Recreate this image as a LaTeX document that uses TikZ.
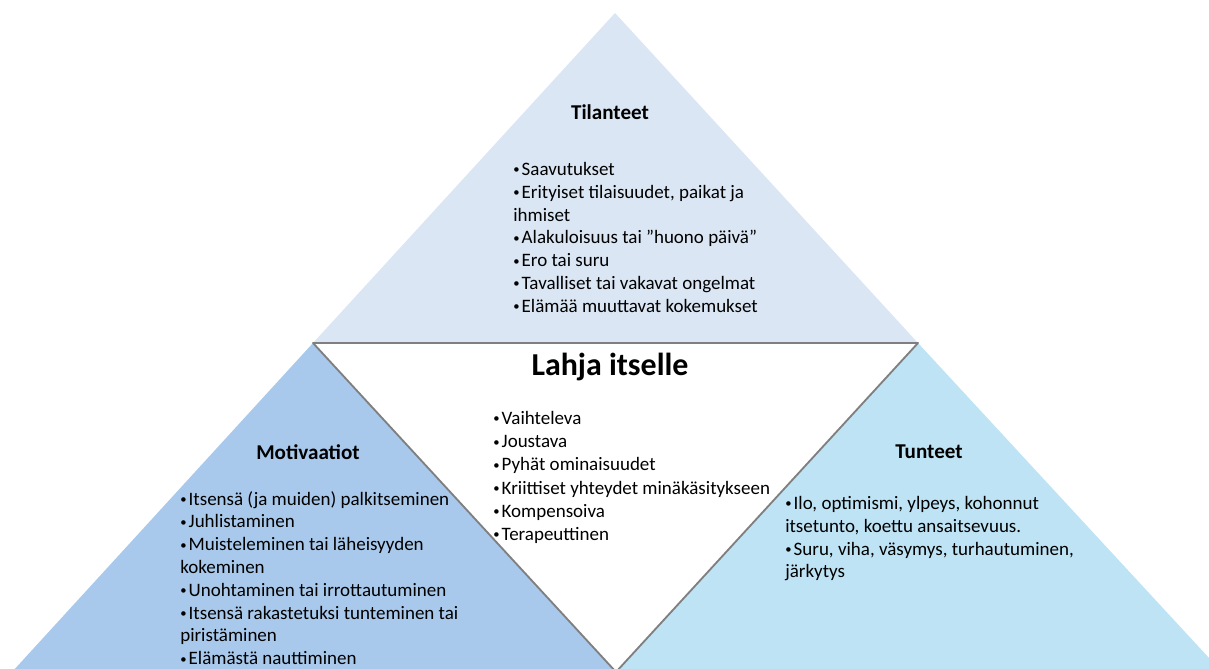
\documentclass[tikz,border=0pt]{standalone}
\usepackage{fontspec}
\setmainfont{Carlito}
\usepackage{tikz}
\usetikzlibrary{positioning}
\definecolor{toptri}{HTML}{DAE6F4}
\definecolor{lefttri}{HTML}{A8C9EB}
\definecolor{righttri}{HTML}{BEE3F4}
\definecolor{edgegray}{HTML}{7F7F7F}
\newcommand{\itm}{{\fontsize{9}{9}\selectfont\raisebox{0.25ex}{•}}\kern1.5pt}

\begin{document}
\begin{tikzpicture}[x=0.025cm, y=-0.025cm,
  heading/.style={font=\fontsize{15}{18}\selectfont\bfseries, inner sep=0pt},
  title/.style={font=\fontsize{22.7}{27}\selectfont\bfseries, inner sep=0pt},
  items/.style={font=\fontsize{13.5}{16.2}\selectfont, align=left, inner sep=0pt,
                anchor=north west},
  rim/.style={draw=edgegray, line width=1.3pt, line join=round}
]
\useasboundingbox (0,0) rectangle (1209,669);
\clip (0,0) rectangle (1209,669);
% corners of the triangles
\coordinate (apex) at (615,13);
\coordinate (tl) at (313,343);
\coordinate (tr) at (918,343);
\coordinate (bot) at (616,672);
\fill[toptri] (apex) -- (tl) -- (tr) -- cycle;
\fill[lefttri] (tl) -- (12,672) -- (bot) -- cycle;
\fill[righttri] (tr) -- (bot) -- (1222,672) -- cycle;
\fill[white] (tl) -- (tr) -- (bot) -- cycle;
\draw[rim] (tl) -- (tr) -- (bot) -- cycle;

\node[heading] (tilanteet) at (610,112) {Tilanteet};
\node[items] (tlist) at (513,162) {\itm Saavutukset\\
  \itm Erityiset tilaisuudet, paikat ja\\ ihmiset\\
  \itm Alakuloisuus tai ”huono päivä”\\ \itm Ero tai suru\\
  \itm Tavalliset tai vakavat ongelmat\\ \itm Elämää muuttavat kokemukset};

\node[title] (lahja) at (610,367) {Lahja itselle};
\node[items, font=\fontsize{13.5}{16.5}\selectfont] (llist) at (493,411)
  {\itm Vaihteleva\\ \itm Joustava\\
  \itm Pyhät ominaisuudet\\ \itm Kriittiset yhteydet minäkäsitykseen\\
  \itm Kompensoiva\\ \itm Terapeuttinen};

\node[heading] (motiv) at (308,452) {Motivaatiot};
\node[items] (mlist) at (180,491) {\itm Itsensä (ja muiden) palkitseminen\\
  \itm Juhlistaminen\\ \itm Muisteleminen tai läheisyyden\\ kokeminen\\
  \itm Unohtaminen tai irrottautuminen\\
  \itm Itsensä rakastetuksi tunteminen tai\\ piristäminen\\
  \itm Elämästä nauttiminen};

\node[heading] (tunteet) at (929,452) {Tunteet};
\node[items] (ulist) at (785,496) {\itm Ilo, optimismi, ylpeys, kohonnut\\
  itsetunto, koettu ansaitsevuus.\\
  \itm Suru, viha, väsymys, turhautuminen,\\ järkytys};
\end{tikzpicture}
\end{document}
